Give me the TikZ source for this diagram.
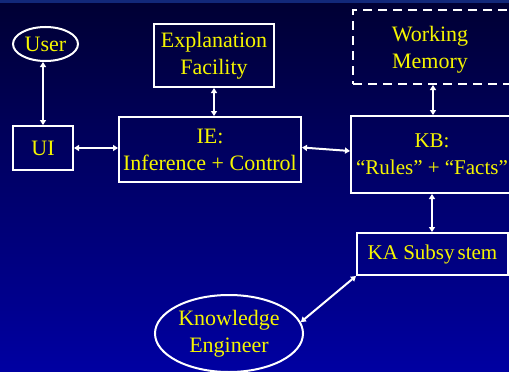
\documentclass[tikz,border=0pt]{standalone}
\usepackage{fontspec}
\setmainfont{Liberation Serif}
\usetikzlibrary{shapes.geometric,arrows.meta}
\definecolor{bgtop}{HTML}{000033}
\definecolor{bgbot}{HTML}{0000A2}
\definecolor{strip}{HTML}{12287A}
\definecolor{txt}{HTML}{F5F500}
\tikzset{
  box/.style={draw=white, line width=2pt, rectangle, inner sep=0pt, align=center,
    text=txt, font=\fontsize{22}{27}\selectfont},
  oval/.style={draw=white, line width=2pt, ellipse, inner sep=0pt, align=center,
    text=txt, font=\fontsize{22}{27}\selectfont},
  link/.style={draw=white, line width=2pt, {Triangle[length=5pt,width=6pt]}-{Triangle[length=5pt,width=6pt]}}
}
\begin{document}
\begin{tikzpicture}[x=1pt,y=-1pt]
\useasboundingbox (0,0) rectangle (509,372);
\begin{scope}
\clip (0,0) rectangle (509,372);
\shade[top color=bgtop, bottom color=bgbot] (0,0) rectangle (509,372);
\fill[strip] (0,0) rectangle (509,2.5);

\node[oval, minimum width=65pt, minimum height=34pt] (user) at (45.5,44) {User};
\node[box, minimum width=60pt, minimum height=44pt] (ui) at (43,148) {UI};
\node[box, minimum width=182pt, minimum height=65pt] (ie) at (210,149.5) {IE:\\Inference + Control};
\node[box, minimum width=120pt, minimum height=63pt] (expl) at (214,55.5) {Explanation\\Facility};
\node[box, dashed, dash pattern=on 9pt off 6pt, minimum width=160pt, minimum height=74pt] (wm) at (433,47) {};
\node[txt, align=center, font=\fontsize{22}{27}\selectfont] (wmt) at (430,50) {Working\\Memory};
\node[box, minimum width=162pt, minimum height=77pt, font=\fontsize{21}{27}\selectfont] (kb) at (432,154.5) {KB:\\“Rules” + “Facts”};
\node[box, minimum width=151pt, minimum height=42pt, font=\fontsize{21}{27}\selectfont] (ka) at (432.5,254) {KA Subsy\hspace{3pt}stem};
\node[oval, minimum width=148pt, minimum height=77pt] (ke) at (229,333.5) {Knowledge\\Engineer};

\draw[link] (ui.north) -- (ui.north |- user.south);
\draw[link] (ui.east) -- (ie.west |- ui.east);
\draw[link] (expl.south) -- (expl.south |- ie.north);
\draw[link] ([yshift=2pt]ie.east) -- ([yshift=3.5pt]kb.west);
\draw[link] (wm.south) -- (wm.south |- kb.north);
\draw[link] (kb.south) -- (kb.south |- ka.north);
\draw[link] (ka.south west) -- (ke.9);
\end{scope}
\end{tikzpicture}
\end{document}
